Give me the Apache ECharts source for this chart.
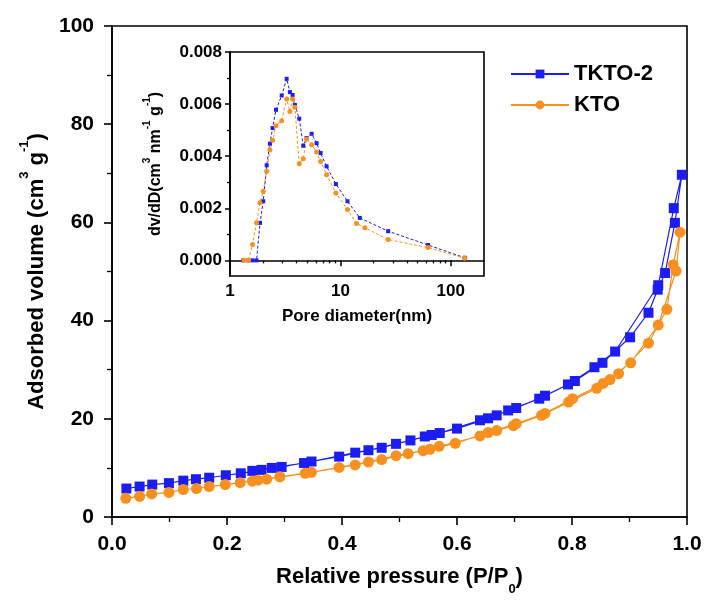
<!DOCTYPE html>
<html>
<head>
<meta charset="utf-8">
<script src="https://cdn.jsdelivr.net/npm/echarts@6/dist/echarts.min.js"></script>
<style>
  html, body { margin: 0; padding: 0; background: #fff; }
  #chart { width: 709px; height: 601px; }
</style>
</head>
<body>
<div id="chart"></div>
<script>
// N2 isotherms, [P/P0, volume]
var tktoAds = [[0.025,5.8],[0.048,6.2],[0.070,6.6],[0.099,6.9],[0.124,7.4],[0.146,7.7],[0.169,8.0],[0.198,8.5],[0.224,8.9],[0.260,9.6],[0.295,10.2],[0.347,11.3],[0.395,12.3],[0.446,13.6],[0.494,14.9],[0.519,15.6],[0.556,16.7],[0.600,18.0],[0.654,20.1],[0.703,22.2],[0.753,24.7],[0.805,27.7],[0.853,31.4],[0.901,36.6],[0.933,41.6],[0.949,46.3],[0.962,49.7],[0.979,59.9],[0.991,69.7]];
var tktoDes = [[0.977,62.9],[0.950,47.2],[0.875,33.7],[0.839,30.5],[0.793,27.0],[0.743,24.1],[0.689,21.7],[0.669,20.7],[0.640,19.7],[0.570,17.1],[0.544,16.4],[0.469,14.1],[0.423,13.1],[0.334,11.0],[0.278,10.0],[0.244,9.4]];
var ktoAds = [[0.024,3.8],[0.048,4.2],[0.069,4.7],[0.099,5.0],[0.124,5.6],[0.147,5.8],[0.169,6.2],[0.197,6.6],[0.223,7.0],[0.254,7.5],[0.292,8.2],[0.347,9.1],[0.395,10.1],[0.446,11.2],[0.494,12.5],[0.515,12.9],[0.553,13.8],[0.597,15.0],[0.654,17.2],[0.703,19.0],[0.753,21.1],[0.801,24.1],[0.854,27.2],[0.902,31.4],[0.950,39.1],[0.981,50.1],[0.988,58.0]];
var ktoDes = [[0.976,51.4],[0.965,42.3],[0.933,35.4],[0.881,29.2],[0.866,28.0],[0.843,26.2],[0.794,23.4],[0.747,20.7],[0.698,18.6],[0.669,17.6],[0.640,16.5],[0.569,14.4],[0.541,13.5],[0.469,11.7],[0.423,10.6],[0.336,8.9],[0.269,7.7],[0.244,7.3]];

// pore size distribution, [diameter nm, dv/dD]
var tktoPsd = [[1.32,0],[1.47,0],[1.60,0],[1.74,0],[1.87,0.00144],[2.00,0.00227],[2.15,0.00365],[2.30,0.00448],[2.43,0.00508],[2.61,0.00578],[2.94,0.00633],[3.26,0.00697],[3.49,0.00646],[3.69,0.00635],[3.87,0.00597],[4.24,0.00544],[4.61,0.00440],[4.94,0.00470],[5.49,0.00486],[6.09,0.00450],[6.62,0.00412],[7.50,0.00361],[9.10,0.00293],[11.6,0.00227],[15.0,0.00163],[27.1,0.00112],[62.3,0.00059],[134,0.00010]];
var ktoPsd = [[1.34,0],[1.47,0],[1.60,0.00061],[1.74,0.00144],[1.87,0.00221],[2.00,0.00265],[2.15,0.00342],[2.30,0.00425],[2.43,0.00461],[2.61,0.00517],[2.94,0.00536],[3.26,0.00620],[3.49,0.00572],[3.69,0.00620],[3.87,0.00588],[4.24,0.00371],[4.61,0.00390],[4.94,0.00466],[5.49,0.00444],[6.09,0.00416],[6.62,0.00380],[7.50,0.00329],[9.10,0.00259],[11.6,0.00195],[14.0,0.00142],[16.7,0.00125],[27.1,0.00080],[62.3,0.00049],[134,0.00008]];

var mainMinorX = [0.1, 0.3, 0.5, 0.7, 0.9];
var mainMinorY = [10, 30, 50, 70, 90];
var insetMajorX = [1, 10, 100];
var insetMinorX = [2,3,4,5,6,7,8,9,20,30,40,50,60,70,80,90];
var insetMajorY = [0, 0.002, 0.004, 0.006, 0.008];
var insetMinorY = [0.001, 0.003, 0.005, 0.007];

var blue = '#1c1cf4';
var orange = '#f8901f';
var font = 'Liberation Sans, Arial, sans-serif';

var chart = echarts.init(document.getElementById('chart'), null, { renderer: 'canvas' });

var axisLine = { lineStyle: { color: '#000', width: 1.6 } };

// axis that only carries short extra ticks
function minorAxis(type, grid, pos, min, max, values, len) {
  return {
    type: type, gridIndex: grid, position: pos, min: min, max: max,
    axisLine: { show: false },
    axisTick: { length: len, customValues: values, lineStyle: { width: 1.3, color: '#000' } },
    splitLine: { show: false },
    axisLabel: { show: false }
  };
}

var option = {
  animation: false,
  backgroundColor: '#fff',
  textStyle: { fontFamily: font, color: '#000', fontWeight: 'bold' },
  legend: {
    data: ['TKTO-2', 'KTO'],
    orient: 'vertical',
    left: 505,
    top: 57,
    itemWidth: 58,
    itemHeight: 11,
    itemGap: 7,
    textStyle: { fontFamily: font, fontSize: 22, fontWeight: 'bold', color: '#000', lineHeight: 24 }
  },
  grid: [
    { left: 112, top: 26, width: 575, height: 492, show: true, borderColor: '#000', borderWidth: 1.6, backgroundColor: 'transparent' },
    { left: 230, top: 52, width: 254, height: 224, show: true, borderColor: '#000', borderWidth: 1.6, backgroundColor: '#fff' }
  ],
  xAxis: [
    {
      type: 'value', gridIndex: 0, position: 'bottom', min: 0, max: 1, interval: 0.2,
      name: '{t|Relative pressure (P/P}{sub|0}{t|)}',
      nameLocation: 'middle', nameGap: 49,
      nameTextStyle: { rich: {
        t: { fontFamily: font, fontSize: 22, fontWeight: 'bold', color: '#000', lineHeight: 30, verticalAlign: 'top' },
        sub: { fontFamily: font, fontSize: 13, fontWeight: 'bold', color: '#000', verticalAlign: 'bottom' }
      } },
      axisLine: axisLine,
      axisTick: { length: 8, lineStyle: { width: 1.6, color: '#000' } },
      splitLine: { show: false },
      axisLabel: { margin: 17, fontSize: 21, fontWeight: 'bold', color: '#000', fontFamily: font,
        formatter: function (v) { return v.toFixed(1); } }
    },
    minorAxis('value', 0, 'bottom', 0, 1, mainMinorX, 5),
    {
      type: 'log', gridIndex: 1, position: 'bottom', min: 1, max: 200, logBase: 10,
      name: 'Pore diameter(nm)', nameLocation: 'middle', nameGap: 32,
      nameTextStyle: { fontFamily: font, fontSize: 17, fontWeight: 'bold', color: '#000' },
      axisLine: axisLine,
      axisTick: { length: 6, customValues: insetMajorX, lineStyle: { width: 1.5, color: '#000' } },
      splitLine: { show: false },
      axisLabel: { margin: 7, fontSize: 17, fontWeight: 'bold', color: '#000', fontFamily: font,
        customValues: insetMajorX, formatter: function (v) { return String(Math.round(v)); } }
    },
    minorAxis('log', 1, 'bottom', 1, 200, insetMinorX, 3)
  ],
  yAxis: [
    {
      type: 'value', gridIndex: 0, position: 'left', min: 0, max: 100, interval: 20,
      name: '{t|Adsorbed volume (cm}{sup|3}{t| g}{sup|-1}{t|)}',
      nameLocation: 'middle', nameGap: 60, nameRotate: 90,
      nameTextStyle: { rich: {
        t: { fontFamily: font, fontSize: 22, fontWeight: 'bold', color: '#000', lineHeight: 30, verticalAlign: 'bottom' },
        sup: { fontFamily: font, fontSize: 13, fontWeight: 'bold', color: '#000', verticalAlign: 'top' }
      } },
      axisLine: axisLine,
      axisTick: { length: 8, lineStyle: { width: 1.6, color: '#000' } },
      splitLine: { show: false },
      axisLabel: { margin: 18, fontSize: 21, fontWeight: 'bold', color: '#000', fontFamily: font }
    },
    minorAxis('value', 0, 'left', 0, 100, mainMinorY, 5),
    {
      type: 'value', gridIndex: 1, position: 'left', min: -0.0006, max: 0.008,
      name: '{t|dv/dD(cm}{sup|3}{t| nm}{sup|-1}{t| g}{sup|-1}{t|)}',
      nameLocation: 'middle', nameGap: 66, nameRotate: 90,
      nameTextStyle: { rich: {
        t: { fontFamily: font, fontSize: 16, fontWeight: 'bold', color: '#000', lineHeight: 22, verticalAlign: 'bottom' },
        sup: { fontFamily: font, fontSize: 10, fontWeight: 'bold', color: '#000', verticalAlign: 'top' }
      } },
      axisLine: axisLine,
      axisTick: { length: 5, customValues: insetMajorY, lineStyle: { width: 1.5, color: '#000' } },
      splitLine: { show: false },
      axisLabel: { margin: 8, fontSize: 17, fontWeight: 'bold', color: '#000', fontFamily: font,
        customValues: insetMajorY, formatter: function (v) { return v.toFixed(3); } }
    },
    minorAxis('value', 1, 'left', -0.0006, 0.008, insetMinorY, 3)
  ],
  series: [
    {
      name: 'TKTO-2', type: 'line', xAxisIndex: 0, yAxisIndex: 0,
      data: tktoAds.concat(tktoDes),
      symbol: 'rect', symbolSize: 10,
      itemStyle: { color: blue }, lineStyle: { color: blue, width: 1.2 }
    },
    {
      name: 'KTO', type: 'line', xAxisIndex: 0, yAxisIndex: 0,
      data: ktoAds.concat(ktoDes),
      symbol: 'circle', symbolSize: 11,
      itemStyle: { color: orange }, lineStyle: { color: orange, width: 1.2 }
    },
    {
      name: 'TKTO-2 PSD', type: 'line', xAxisIndex: 2, yAxisIndex: 2,
      data: tktoPsd,
      symbol: 'rect', symbolSize: 4,
      itemStyle: { color: blue }, lineStyle: { color: blue, width: 1, type: [3, 2] }
    },
    {
      name: 'KTO PSD', type: 'line', xAxisIndex: 2, yAxisIndex: 2,
      data: ktoPsd,
      symbol: 'circle', symbolSize: 5,
      itemStyle: { color: orange }, lineStyle: { color: orange, width: 1, type: [3, 2] }
    }
  ]
};

chart.setOption(option);
</script>
</body>
</html>
